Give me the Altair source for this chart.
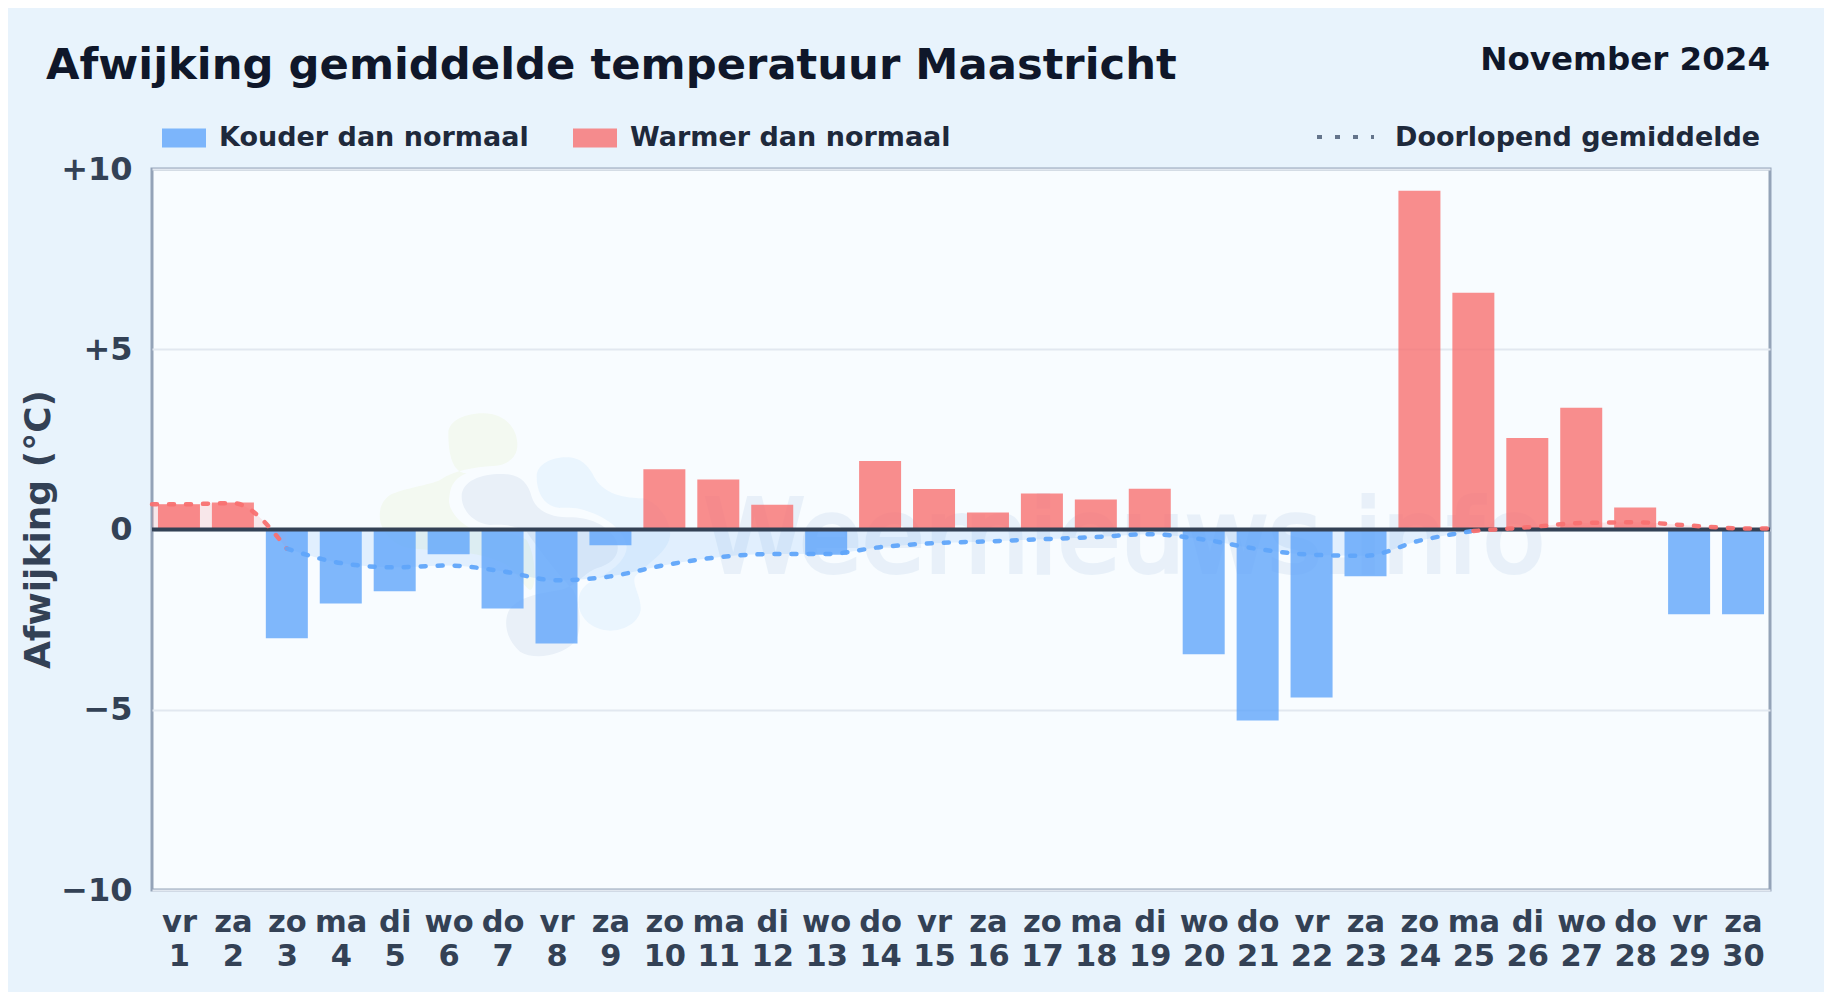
import altair as alt
import pandas as pd

FONT = "DejaVu Sans"
PAGE_BG = "#e8f3fc"
PLOT_BG = "#f8fcff"
COLD = "Kouder dan normaal"
WARM = "Warmer dan normaal"

weekdays = ["vr", "za", "zo", "ma", "di", "wo", "do", "vr", "za", "zo",
            "ma", "di", "wo", "do", "vr", "za", "zo", "ma", "di", "wo",
            "do", "vr", "za", "zo", "ma", "di", "wo", "do", "vr", "za"]
days = list(range(1, 31))
anomaly = [0.7, 0.75, -3.02, -2.05, -1.71, -0.69, -2.19, -3.16, -0.44, 1.67,
           1.39, 0.69, -0.7, 1.9, 1.12, 0.47, 1.0, 0.83, 1.13, -3.46,
           -5.3, -4.66, -1.3, 9.4, 6.57, 2.54, 3.38, 0.61, -2.35, -2.35]

run_x_a = [0.5, 1, 2, 3]
run_y_a = [0.7, 0.7, 0.73, -0.53]
run_x_b = [3, 4, 5, 6, 7, 8, 9, 10, 11, 12, 13, 14, 15, 16, 17, 18, 19, 20, 21, 22, 23, 24, 25]
run_y_b = [-0.53, -0.93, -1.05, -1.0, -1.16, -1.41, -1.3, -0.99, -0.77, -0.68, -0.68, -0.49,
           -0.38, -0.33, -0.27, -0.21, -0.13, -0.28, -0.54, -0.7, -0.73, -0.31, -0.04]
run_x_c = [25, 26, 27, 28, 29, 30, 30.5]
run_y_c = [-0.04, 0.06, 0.18, 0.2, 0.11, 0.03, 0.03]

bars = pd.DataFrame({"day": days, "value": anomaly,
                     "kind": [WARM if v >= 0 else COLD for v in anomaly]})
running = pd.DataFrame({
    "x": run_x_a + run_x_b + run_x_c,
    "y": run_y_a + run_y_b + run_y_c,
    "kind": [WARM] * len(run_x_a) + [COLD] * len(run_x_b) + [WARM] * len(run_x_c),
    "part": ["a"] * len(run_x_a) + ["b"] * len(run_x_b) + ["c"] * len(run_x_c),
})
one = pd.DataFrame({"n": [0]})

x_scale = alt.Scale(domain=[0.5, 30.5], nice=False, zero=False, padding=0)
y_scale = alt.Scale(domain=[-10, 10], nice=False)
x_enc = alt.X("day:Q", scale=x_scale,
              axis=alt.Axis(values=days, title=None, domain=False, ticks=False, grid=False,
                            labelExpr="[" + str(weekdays) + "[datum.value - 1], '' + datum.value]",
                            labelFont=FONT, labelFontSize=30.5, labelFontWeight="bold",
                            labelColor="#334155", labelPadding=17, labelLineHeight=34,
                            labelOverlap=False, labelBound=False, labelFlush=False,
                            labelAngle=0, labelBaseline="top", labelLimit=200))
y_enc = alt.Y("value:Q", scale=y_scale,
              axis=alt.Axis(values=[-10, -5, 0, 5, 10], domain=False, ticks=False, grid=True,
                            gridColor="#e2e8f0", gridWidth=2,
                            labelExpr="datum.value > 0 ? '+' + datum.value : (datum.value < 0 ? '\u2212' + abs(datum.value) : '0')",
                            labelFont=FONT, labelFontSize=32, labelFontWeight="bold",
                            labelColor="#334155", labelPadding=20,
                            title="Afwijking (\u00b0C)", titleFont=FONT, titleFontSize=36,
                            titleFontWeight="bold", titleColor="#334155",
                            titleX=-114, titleY=360, titleAngle=270,
                            titleAlign="center", titleBaseline="middle"))
color_scale = alt.Scale(domain=[COLD, WARM], range=["#60a5fa", "#f87171"])
key = alt.Legend(orient="none", legendX=10, legendY=-53, direction="horizontal",
                 columns=2, title=None, padding=0,
                 symbolType="M-1,-0.43H1V0.43H-1Z", symbolSize=1936,
                 symbolStrokeWidth=0, symbolOpacity=0.8,
                 labelFont=FONT, labelFontSize=27, labelFontWeight="bold",
                 labelColor="#1e293b", labelOffset=13, labelLimit=500,
                 columnPadding=44)


def blob(path, fill):
    return alt.Chart(one).mark_point(shape=path, size=4 / 9, filled=True, fill=fill,
                                     opacity=1, strokeWidth=0).encode(
        x=alt.value(208), y=alt.value(221))


green_path = ("M265,130 C265,90 320,70 370,70 C430,70 470,110 472,160 C474,205 440,225 400,228 "
              "C340,232 285,240 240,270 C210,285 130,295 90,315 C60,335 55,370 62,400 "
              "C75,440 110,470 150,475 C250,485 350,480 430,520 C470,540 490,590 510,600 "
              "C530,600 530,500 500,450 C460,420 380,430 340,420 C300,400 260,360 268,320 "
              "C272,280 290,262 320,250 C270,250 265,170 265,130 Z")
grey_path = ("M305,320 C305,270 370,250 430,252 C480,252 505,280 515,320 C525,355 560,380 620,382 "
             "C680,380 740,400 768,450 C785,490 760,520 710,535 C670,550 650,590 600,600 "
             "C540,610 470,620 445,665 C430,700 440,750 480,785 C520,810 600,800 640,760 "
             "C670,730 660,640 640,600 C600,560 530,470 500,425 C450,400 420,405 390,405 "
             "C340,400 305,360 305,320 Z")
blue_path = ("M530,260 C530,220 580,200 625,202 C670,205 690,235 705,265 C725,300 770,325 850,325 "
             "C900,340 935,400 930,440 C920,490 860,520 825,560 C815,585 845,620 842,660 "
             "C835,700 790,722 750,722 C700,720 660,690 655,640 C655,610 665,590 700,570 "
             "C750,550 800,510 800,470 C790,410 720,370 650,355 C620,352 590,358 570,345 "
             "C545,330 530,300 530,260 Z")

watermark = alt.Chart(one).mark_text(
    text="Weernieuws.info", font=FONT, fontSize=102, color="#4f86c6", stroke="#4f86c6",
    strokeWidth=4, opacity=0.09,
    align="left", baseline="alphabetic").encode(x=alt.value(552), y=alt.value(403))

area = alt.Chart(running).mark_area(interpolate="monotone", opacity=0.15).encode(
    x=alt.X("x:Q", scale=x_scale),
    y=alt.Y("y:Q", scale=y_scale),
    y2=alt.datum(0),
    color=alt.Color("kind:N", scale=color_scale, legend=key),
    detail="part:N")

bar = alt.Chart(bars).mark_bar(size=42, opacity=0.8).encode(
    x=x_enc, y=y_enc, y2=alt.datum(0),
    color=alt.Color("kind:N", scale=color_scale, legend=key))

zero = alt.Chart(one).mark_rule(color="#334155", strokeWidth=4).encode(
    y=alt.datum(0), x=alt.value(0), x2=alt.value(1618))

line = alt.Chart(running).mark_line(interpolate="monotone", strokeWidth=4.5, strokeDash=[5, 12],
                                    strokeCap="round", opacity=0.95).encode(
    x=alt.X("x:Q", scale=x_scale), y=alt.Y("y:Q", scale=y_scale),
    color=alt.Color("kind:N", scale=color_scale, legend=key),
    detail="part:N")

main_title = alt.Chart(one).mark_text(text="Afwijking gemiddelde temperatuur Maastricht", font=FONT,
                                      fontSize=43.3, fontWeight="bold", color="#0f172a",
                                      align="left", baseline="alphabetic").encode(
    x=alt.value(-106), y=alt.value(-90))

month = alt.Chart(one).mark_text(text="November 2024", font=FONT, fontSize=32.5, fontWeight="bold",
                                 color="#0f172a", align="right", baseline="alphabetic").encode(
    x=alt.value(1618), y=alt.value(-99))

avg_key = alt.Chart(one).mark_rule(color="#64748b", strokeWidth=4, strokeDash=[5, 13]).encode(
    x=alt.value(1165), x2=alt.value(1222), y=alt.value(-32))
avg_text = alt.Chart(one).mark_text(text="Doorlopend gemiddelde", font=FONT, fontSize=27,
                                    fontWeight="bold", color="#1e293b", align="left",
                                    baseline="alphabetic").encode(
    x=alt.value(1243), y=alt.value(-23))

chart = alt.layer(
    blob(green_path, "#f3f9f1"), blob(blue_path, "#eaf5fe"), blob(grey_path, "#e9f0f8"),
    watermark, area, bar, zero, line, main_title, month, avg_key, avg_text,
).resolve_scale(x="shared", y="shared", color="shared").properties(
    width=1618, height=721,
    background=PAGE_BG,
    autosize=alt.AutoSizeParams(type="none"),
    padding={"left": 144, "top": 161, "right": 54, "bottom": 102},
).configure_view(fill=PLOT_BG, stroke="#94a3b8", strokeWidth=3)

chart.save("out.html", embed_options={"renderer": "svg", "actions": False})
